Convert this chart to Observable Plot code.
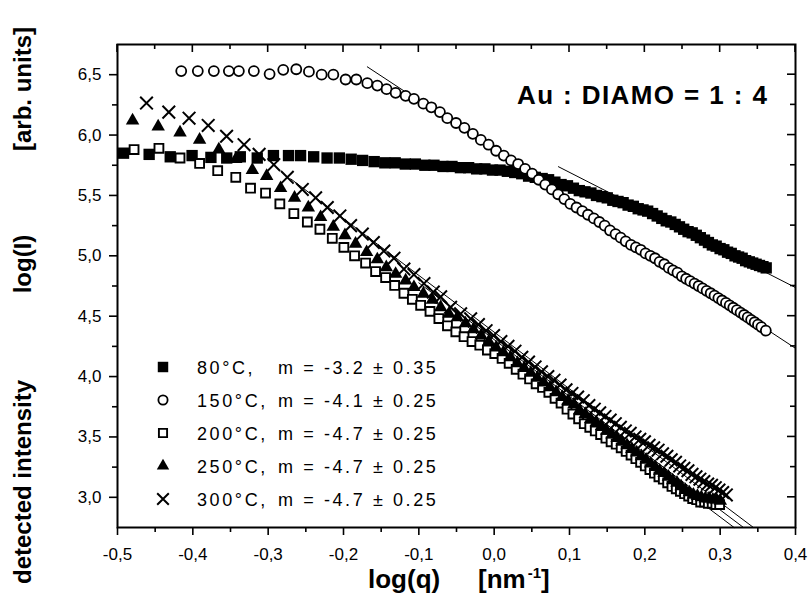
<!DOCTYPE html>
<html><head><meta charset="utf-8">
<script src="https://cdn.jsdelivr.net/npm/d3@7"></script>
<script src="https://cdn.jsdelivr.net/npm/@observablehq/plot@0.6"></script>
<style>html,body{margin:0;padding:0;background:#fff;} svg{display:block;}</style>
</head><body><div id="chart"></div>
<script>
// ---- data: log(q) [nm^-1] and log(I) [arb. units] ----
const logq80 = [-0.492,-0.458,-0.430,-0.401,-0.376,-0.355,-0.337,-0.3145,-0.293,-0.273,-0.257,-0.2396,-0.2218,-0.2055,-0.1898,-0.1746,-0.1593,-0.1451,-0.1314,-0.1180,-0.1046,-0.0920,-0.0799,-0.0680,-0.0560,-0.0448,-0.0339,-0.0232,-0.0123,-0.0022,0.0078,0.0175,0.0273,0.0366,0.0457,0.0546,0.0637,0.0722,0.0806,0.0888,0.0973,0.1052,0.1130,0.1206,0.1284,0.1358,0.1430,0.1501,0.1575,0.1644,0.1712,0.1778,0.1847,0.1912,0.1976,0.2038,0.2103,0.2164,0.2225,0.2284,0.2345,0.2403,0.2460,0.2516,0.2574,0.2629,0.2683,0.2737,0.2792,0.2844,0.2896,0.2947,0.2999,0.3049,0.3098,0.3147,0.3197,0.3245,0.3292,0.3338,0.3387,0.3432,0.3477,0.3522,0.3568,0.3611];
const logI80 = [5.85,5.84,5.82,5.83,5.815,5.81,5.82,5.81,5.83,5.83,5.83,5.82,5.81,5.81,5.80,5.79,5.78,5.77,5.77,5.76,5.76,5.75,5.75,5.74,5.74,5.73,5.73,5.72,5.72,5.71,5.71,5.70,5.69,5.68,5.66,5.65,5.64,5.63,5.61,5.59,5.58,5.56,5.54,5.53,5.52,5.50,5.49,5.48,5.46,5.45,5.44,5.42,5.41,5.39,5.38,5.37,5.35,5.33,5.31,5.29,5.28,5.26,5.24,5.22,5.20,5.19,5.17,5.15,5.13,5.11,5.09,5.08,5.06,5.05,5.03,5.02,5.00,4.99,4.98,4.96,4.95,4.94,4.93,4.92,4.91,4.90];

const logq150 = [-0.4154,-0.3934,-0.3721,-0.3522,-0.3389,-0.319,-0.2981,-0.28,-0.2627,-0.2459,-0.229,-0.2135,-0.1972,-0.183,-0.1684,-0.1551,-0.1428,-0.1308,-0.1175,-0.1065,-0.094,-0.0834,-0.072,-0.0622,-0.0506,-0.0395,-0.0283,-0.0177,-0.0074,0.0026,0.0128,0.0224,0.0318,0.0410,0.0504,0.0592,0.0678,0.0766,0.0849,0.0931,0.1011,0.1093,0.1170,0.1245,0.1323,0.1396,0.1467,0.1538,0.1611,0.1679,0.1746,0.1816,0.1881,0.1945,0.2009,0.2074,0.2135,0.2196,0.2258,0.2317,0.2375,0.2433,0.2492,0.2548,0.2603,0.2660,0.2714,0.2767,0.2820,0.2874,0.2925,0.2976,0.3026,0.3077,0.3126,0.3174,0.3222,0.3271,0.3318,0.3365,0.3411,0.3458,0.3502,0.3547,0.3606];
const logI150 = [6.53,6.53,6.53,6.53,6.53,6.53,6.505,6.54,6.545,6.525,6.50,6.50,6.46,6.46,6.43,6.41,6.38,6.35,6.325,6.30,6.26,6.23,6.19,6.14,6.10,6.06,6.01,5.96,5.92,5.87,5.83,5.79,5.76,5.72,5.68,5.63,5.59,5.55,5.51,5.47,5.43,5.40,5.37,5.34,5.31,5.28,5.25,5.21,5.18,5.15,5.12,5.09,5.07,5.05,5.02,5.00,4.98,4.95,4.93,4.90,4.88,4.86,4.83,4.81,4.79,4.77,4.75,4.73,4.71,4.69,4.67,4.65,4.63,4.61,4.59,4.57,4.55,4.53,4.51,4.49,4.47,4.45,4.43,4.41,4.38];

const logq200 = [-0.478,-0.445,-0.417,-0.391,-0.367,-0.343,-0.3234,-0.3035,-0.2845,-0.2659,-0.248,-0.2313,-0.2149,-0.1995,-0.1853,-0.1707,-0.1574,-0.1441,-0.1321,-0.1198,-0.1086,-0.0976,-0.0852,-0.0734,-0.0620,-0.0509,-0.0400,-0.0294,-0.0191,-0.0090,0.0008,0.0105,0.0199,0.0292,0.0382,0.0470,0.0557,0.0642,0.0726,0.0808,0.0888,0.0967,0.1045,0.1121,0.1196,0.1269,0.1342,0.1413,0.1483,0.1552,0.1620,0.1686,0.1752,0.1817,0.1881,0.1944,0.2006,0.2067,0.2127,0.2187,0.2245,0.2303,0.2360,0.2417,0.2472,0.2527,0.2582,0.2635,0.2688,0.2741,0.2793,0.2843,0.2894,0.2943,0.2993];
const logI200 = [5.88,5.89,5.81,5.765,5.705,5.65,5.56,5.52,5.43,5.35,5.28,5.22,5.145,5.07,5.00,4.94,4.87,4.82,4.755,4.69,4.64,4.59,4.54,4.48,4.42,4.37,4.33,4.29,4.26,4.22,4.19,4.15,4.11,4.06,4.02,3.98,3.94,3.91,3.87,3.82,3.78,3.73,3.69,3.65,3.61,3.58,3.55,3.52,3.49,3.46,3.44,3.41,3.38,3.35,3.32,3.29,3.26,3.23,3.20,3.17,3.15,3.12,3.09,3.07,3.05,3.03,3.01,2.99,2.98,2.96,2.96,2.95,2.95,2.94,2.94];

const logq250 = [-0.480,-0.446,-0.417,-0.391,-0.3655,-0.343,-0.321,-0.302,-0.2835,-0.265,-0.2467,-0.2304,-0.2136,-0.1981,-0.184,-0.1693,-0.1551,-0.1432,-0.1308,-0.1175,-0.1065,-0.094,-0.082,-0.071,-0.060,-0.0489,-0.0381,-0.0276,-0.0173,-0.0072,0.0026,0.0122,0.0216,0.0308,0.0398,0.0486,0.0573,0.0658,0.0741,0.0823,0.0903,0.0981,0.1059,0.1134,0.1209,0.1282,0.1355,0.1425,0.1495,0.1564,0.1632,0.1698,0.1764,0.1828,0.1892,0.1955,0.2017,0.2078,0.2138,0.2197,0.2256,0.2313,0.2370,0.2427,0.2482,0.2537,0.2591,0.2645,0.2698,0.2750,0.2802,0.2852,0.2903,0.2952,0.3002];
const logI250 = [6.12,6.07,6.02,5.96,5.88,5.80,5.71,5.66,5.56,5.48,5.40,5.32,5.24,5.17,5.10,5.03,4.97,4.905,4.85,4.795,4.74,4.685,4.635,4.574,4.52,4.49,4.44,4.39,4.34,4.29,4.24,4.20,4.16,4.11,4.07,4.03,3.99,3.95,3.91,3.87,3.83,3.80,3.77,3.72,3.69,3.65,3.62,3.59,3.55,3.52,3.49,3.46,3.43,3.40,3.37,3.34,3.31,3.28,3.25,3.22,3.20,3.17,3.14,3.12,3.09,3.06,3.04,3.02,3.01,3.00,2.99,2.99,2.98,2.98,2.97];

const logq300 = [-0.4615,-0.4319,-0.405,-0.3796,-0.3552,-0.332,-0.312,-0.2925,-0.2746,-0.2547,-0.237,-0.2215,-0.2048,-0.1906,-0.175,-0.1604,-0.1464,-0.133,-0.1198,-0.1065,-0.0932,-0.0808,-0.071,-0.0578,-0.0445,-0.0312,-0.0209,-0.0107,-0.0008,0.0089,0.0183,0.0276,0.0367,0.0456,0.0543,0.0628,0.0712,0.0794,0.0875,0.0954,0.1032,0.1108,0.1183,0.1257,0.1329,0.1401,0.1471,0.1540,0.1608,0.1675,0.1741,0.1806,0.1870,0.1933,0.1995,0.2056,0.2117,0.2176,0.2235,0.2293,0.2350,0.2407,0.2463,0.2518,0.2572,0.2626,0.2679,0.2731,0.2783,0.2834,0.2885,0.2935,0.2984,0.3033,0.3082];
const logI300 = [6.265,6.19,6.14,6.08,5.99,5.92,5.84,5.755,5.65,5.55,5.48,5.40,5.33,5.25,5.18,5.11,5.04,4.98,4.89,4.845,4.77,4.70,4.66,4.574,4.52,4.478,4.43,4.38,4.34,4.29,4.25,4.21,4.16,4.12,4.08,4.04,4.00,3.97,3.93,3.89,3.86,3.83,3.80,3.76,3.73,3.70,3.67,3.64,3.61,3.58,3.55,3.53,3.50,3.48,3.46,3.43,3.41,3.39,3.36,3.34,3.31,3.29,3.26,3.24,3.22,3.19,3.17,3.15,3.13,3.11,3.10,3.08,3.06,3.04,3.02];

// power-law fit lines (start and end points)
const fitNames = ["80°C", "150°C", "200°C", "250°C", "300°C"];
const fitX1 = [0.0853, -0.1684, -0.10, -0.10, -0.27];
const fitY1 = [5.738, 6.565, 4.717, 4.776, 5.637];
const fitX2 = [0.40, 0.40, 0.3185, 0.331, 0.3442];
const fitY2 = [4.737, 4.234, 2.75, 2.75, 2.75];

// legend texts
const legendTemps = ["80°C,", "150°C,", "200°C,", "250°C,", "300°C,"];
const legendSlopes = ["m = -3.2 ± 0.35", "m = -4.1 ± 0.25", "m = -4.7 ± 0.25", "m = -4.7 ± 0.25", "m = -4.7 ± 0.25"];

// ticks
const xMajor = [-0.5,-0.4,-0.3,-0.2,-0.1,0.0,0.1,0.2,0.3,0.4];
const xMinor = [-0.45,-0.35,-0.25,-0.15,-0.05,0.05,0.15,0.25,0.35];
const yMajor = [3.0,3.5,4.0,4.5,5.0,5.5,6.0,6.5];
const yMinor = [3.25,3.75,4.25,4.75,5.25,5.75,6.25];

const titleText = "Au : DIAMO = 1 : 4";

// ---- build ----
const rows = (q, v) => q.map((x, k) => ({x, y: v[k]})).filter(d => d.y !== undefined);
const fits = fitNames.flatMap((n, k) => [{n, x: fitX1[k], y: fitY1[k]}, {n, x: fitX2[k], y: fitY2[k]}]);
const fmt = d => d.toFixed(1).replace(".", ",");
const FONT = "'Liberation Sans', Arial, Helvetica, sans-serif";

const styles = [
  {symbol: "square", r: 6.4, fill: "black", stroke: "none", sw: 0},
  {symbol: "circle", r: 5.0, fill: "white", stroke: "black", sw: 1.8},
  {symbol: "square", r: 5.0, fill: "white", stroke: "black", sw: 1.9},
  {symbol: "triangle", r: 5.0, fill: "black", stroke: "none", sw: 0},
  {symbol: "times", r: 5.8, fill: "none", stroke: "black", sw: 2}
];
const data = [rows(logq80, logI80), rows(logq150, logI150), rows(logq200, logI200), rows(logq250, logI250), rows(logq300, logI300)];

const chart = Plot.plot({
  width: 809, height: 599,
  marginLeft: 117, marginRight: 14, marginTop: 44, marginBottom: 72,
  x: {domain: [-0.5, 0.4]},
  y: {domain: [2.75, 6.75]},
  style: {fontFamily: FONT, fontSize: "17px", color: "black", background: "white", overflow: "visible"},
  marks: [
    Plot.line(fits, {x: "x", y: "y", z: "n", stroke: "black", strokeWidth: 1}),
    ...data.map((d, k) => Plot.dot(d, {x: "x", y: "y", symbol: styles[k].symbol, r: styles[k].r,
      fill: styles[k].fill, stroke: styles[k].stroke, strokeWidth: styles[k].sw})),
    Plot.axisX(xMajor, {anchor: "bottom", tickSize: 8, tickPadding: 12, tickFormat: fmt, strokeWidth: 1.6, label: null, fontSize: 17}),
    Plot.axisX(xMinor, {anchor: "bottom", tickSize: 5, tickFormat: () => "", strokeWidth: 1.6, label: null}),
    Plot.axisY(yMajor, {anchor: "left", tickSize: 8, tickPadding: 8, tickFormat: fmt, strokeWidth: 1.6, label: null, fontSize: 17}),
    Plot.axisY(yMinor, {anchor: "left", tickSize: 5, tickFormat: () => "", strokeWidth: 1.6, label: null}),
    Plot.frame({stroke: "black", strokeWidth: 2})
  ]
});

document.getElementById("chart").appendChild(chart);
const svg = d3.select(chart);
const sx = chart.scale("x"), sy = chart.scale("y");
const [xL, xR] = sx.range, [yB, yT] = sy.range;

// inward ticks on top and right
const g = svg.append("g").attr("stroke", "black").attr("stroke-width", 1.6);
xMajor.forEach(v => g.append("line").attr("x1", sx.apply(v)).attr("x2", sx.apply(v)).attr("y1", yT).attr("y2", yT + 8));
xMinor.forEach(v => g.append("line").attr("x1", sx.apply(v)).attr("x2", sx.apply(v)).attr("y1", yT).attr("y2", yT + 5));
yMajor.forEach(v => g.append("line").attr("y1", sy.apply(v)).attr("y2", sy.apply(v)).attr("x1", xR).attr("x2", xR - 8));
yMinor.forEach(v => g.append("line").attr("y1", sy.apply(v)).attr("y2", sy.apply(v)).attr("x1", xR).attr("x2", xR - 5));

// axis titles
const yt = svg.append("g").attr("font-family", FONT).attr("font-weight", "bold").attr("font-size", 24).attr("fill", "black").attr("text-anchor", "middle");
[["detected intensity", 482], ["log(I)", 264], ["[arb. units]", 89]].forEach(([t, cy]) =>
  yt.append("text").attr("transform", `translate(31,${cy}) rotate(-90)`).text(t));

const xt = svg.append("g").attr("font-family", FONT).attr("font-weight", "bold").attr("font-size", 26).attr("fill", "black").attr("text-anchor", "start");
xt.append("text").attr("x", 368).attr("y", 588).text("log(q)");
const nm = xt.append("text").attr("x", 478).attr("y", 588);
nm.append("tspan").text("[nm");
nm.append("tspan").attr("font-size", 15).attr("dy", -10).attr("dx", 2).text("-1");
nm.append("tspan").attr("dy", 10).text("]");

// title
svg.append("text").attr("x", 517).attr("y", 104).attr("text-anchor", "start").attr("font-family", FONT).attr("font-weight", "bold")
  .attr("font-size", 26).attr("letter-spacing", 1.4).attr("fill", "black").text(titleText);

// legend
const lg = svg.append("g").attr("font-family", FONT).attr("font-size", 18).attr("fill", "black").attr("text-anchor", "start");
const symMap = {square: d3.symbolSquare, circle: d3.symbolCircle, triangle: d3.symbolTriangle, times: d3.symbolTimes};
legendTemps.forEach((t, k) => {
  const cy = 367 + 33 * k;
  const st = styles[k];
  lg.append("path").attr("transform", `translate(163,${cy})`)
    .attr("d", d3.symbol(symMap[st.symbol], Math.PI * st.r * st.r * 0.85)())
    .attr("fill", st.fill).attr("stroke", st.stroke).attr("stroke-width", st.sw);
  lg.append("text").attr("x", 197).attr("y", cy + 6.5).attr("letter-spacing", 2.6).text(t);
  lg.append("text").attr("x", 278).attr("y", cy + 6.5).attr("letter-spacing", 2.6).text(legendSlopes[k]);
});
</script>
</body></html>
